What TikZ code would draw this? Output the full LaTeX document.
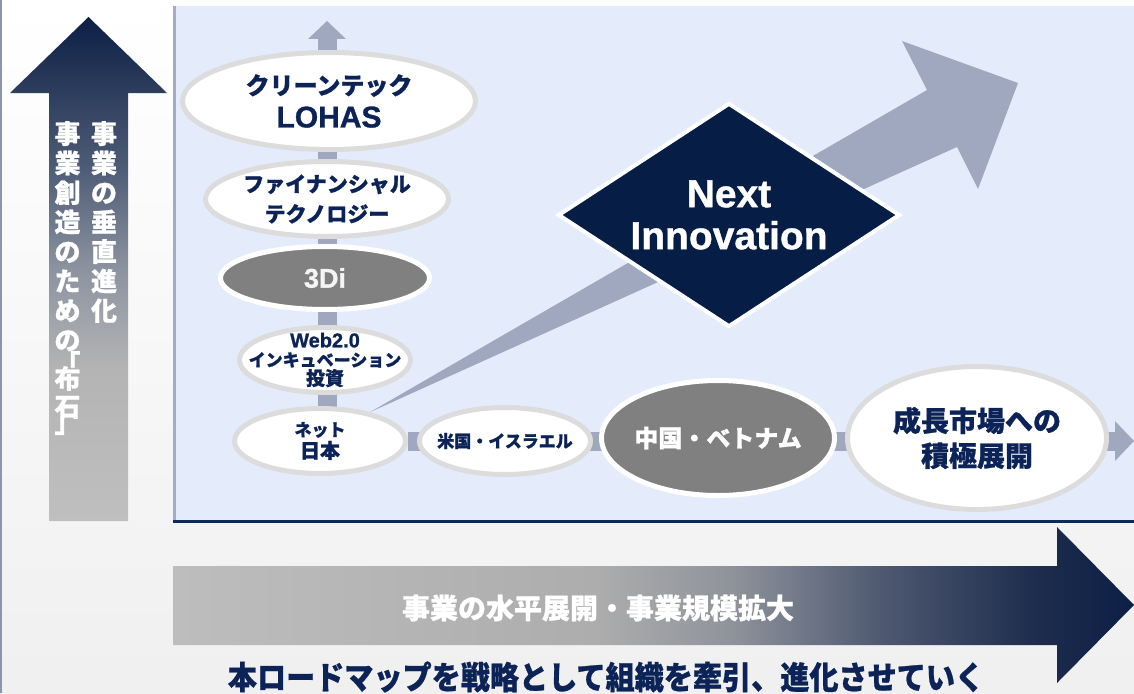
\documentclass[tikz,border=0pt]{standalone}
\usepackage{fontspec}
\setmainfont{Liberation Sans}[BoldFeatures={FakeBold=1}]
\newfontfamily\jp{Noto Sans CJK JP}[BoldFeatures={FakeBold=0.8}]
\newcommand\latf{\rmfamily\bfseries}
\usetikzlibrary{shapes.geometric,arrows.meta}
\definecolor{navytext}{HTML}{0B2356}
\definecolor{navyfill}{HTML}{061D45}
\definecolor{conncol}{HTML}{A0A8BF}
\definecolor{panelcol}{HTML}{E4ECFC}
\definecolor{ringcol}{HTML}{DCDCDC}
\definecolor{midgray}{HTML}{808080}
\definecolor{panelline}{HTML}{A4ACC4}
\definecolor{bline}{HTML}{0E2A5C}
\definecolor{edgecol}{HTML}{8A96AA}
\definecolor{va}{HTML}{BFBFBF}
\definecolor{vb}{HTML}{B4B4B4}
\definecolor{vc}{HTML}{8C93A0}
\definecolor{vd}{HTML}{4E5C76}
\definecolor{ve}{HTML}{0C1F45}
\definecolor{ha}{HTML}{BDBDBD}
\definecolor{hb}{HTML}{ADADAD}
\definecolor{hc}{HTML}{8F939B}
\definecolor{hd}{HTML}{4D5870}
\definecolor{he}{HTML}{1D2C4D}
\definecolor{hf}{HTML}{0C1F45}
\pgfdeclareverticalshading{vgrad}{100bp}{color(0bp)=(va); color(25bp)=(va); color(40bp)=(vb); color(50bp)=(vc); color(60bp)=(vd); color(75bp)=(ve); color(100bp)=(ve)}
\pgfdeclarehorizontalshading{hgrad}{100bp}{color(0bp)=(ha); color(25bp)=(ha); color(47bp)=(hb); color(54bp)=(hc); color(62bp)=(hd); color(70bp)=(he); color(75bp)=(hf); color(100bp)=(hf)}
\pgfdeclarelayer{back}
\pgfdeclarelayer{conn}
\pgfsetlayers{back,conn,main}
\begin{document}
\begin{tikzpicture}[x=1pt,y=-1pt,
  ring/.style={ellipse, draw=ringcol, line width=5, fill=white, inner xsep=-40pt, inner ysep=-20pt, text=navytext, align=center, font=\jp\bfseries},
  grayring/.style={ellipse, draw=white, line width=5, fill=midgray, inner xsep=-40pt, inner ysep=-20pt, text=white, align=center, font=\jp\bfseries},
  conn/.style={draw=conncol, line width=19, line cap=butt},
  vtxt/.style={text=white, align=center, inner sep=0, font=\jp\bfseries\fontsize{26}{29.5}\selectfont}]
\useasboundingbox (0,0) rectangle (1134,693);
\begin{pgfonlayer}{back}
  \shade[top color=white, bottom color=black!6] (0,0) rectangle (1134,693);
  \fill[white] (0,0) rectangle (1134,6);
  \draw[edgecol, line width=1.5] (1,0) -- (1,693);
  \fill[panelcol] (173,6) rectangle (1134,521);
  \draw[panelline, line width=3] (174.5,6) -- (174.5,521);
  \draw[bline, line width=3] (173,521) -- (1134,521);
  \shade[shading=vgrad] (49,521) -- (49,93) -- (10,93) -- (88.5,17) -- (167,93) -- (128,93) -- (128,521) -- cycle;
  \shade[shading=hgrad] (173,566) -- (1057,566) -- (1057,527) -- (1134,605) -- (1057,683) -- (1057,645) -- (173,645) -- cycle;
\end{pgfonlayer}

% left vertical labels
\node[vtxt, anchor=north] (vt1) at (104,121) {事\\業\\の\\垂\\直\\進\\化};
\node[vtxt, anchor=north] (vt2) at (67.5,121) {事\\業\\創\\造\\の\\た\\め\\の\\[-6pt]「\\[-14.5pt]布\\[-1.5pt]石\\[-13.5pt]」};

% bottom labels
\node[text=white, inner sep=0, font=\jp\bfseries\fontsize{28}{30}\selectfont] (hlabel) at (598,608) {事業の水平展開・事業規模拡大};
\node[text=navytext, inner sep=0, font=\jp\bfseries\fontsize{32}{34}\selectfont] (slogan) at (606,677) {\scalebox{0.91}[1]{本ロードマップを戦略として組織を牽引、進化させていく}};

% ellipses
\node[ring, minimum width=293, minimum height=97, font=\jp\bfseries\fontsize{24}{33}\selectfont] (lohas) at (329,101) {クリーンテック\\{\latf\fontsize{30}{33}\selectfont LOHAS}};
\node[ring, minimum width=243, minimum height=75, font=\jp\bfseries\fontsize{21}{30}\selectfont] (fin) at (327,199) {ファイナンシャル\\テクノロジー};
\node[grayring, minimum width=209, minimum height=63, text=black!4, font=\latf\fontsize{27}{30}\selectfont] (tdi) at (325,278) {3Di};
\node[ring, minimum width=171, minimum height=65, font=\jp\bfseries\fontsize{17}{19}\selectfont] (web) at (325,360) {{\latf\fontsize{20}{19}\selectfont Web2.0}\\インキュベーション\\{\fontsize{19}{19}\selectfont 投資}};
\node[ring, minimum width=171, minimum height=65, font=\jp\bfseries\fontsize{17}{22}\selectfont] (net) at (320,441) {ネット\\{\fontsize{20}{22}\selectfont 日本}};
\node[ring, minimum width=171, minimum height=67, font=\jp\bfseries\fontsize{17}{20}\selectfont] (usil) at (505,441) {米国・イスラエル};
\node[grayring, minimum width=233, minimum height=115, font=\jp\bfseries\fontsize{24}{28}\selectfont] (cnvn) at (718,438) {中国・ベトナム};
\node[ring, minimum width=259, minimum height=143, font=\jp\bfseries\fontsize{28}{35}\selectfont] (grow) at (977,438) {成長市場への\\積極展開};

% connectors
\coordinate (vtop) at (327,21);
\coordinate (hend) at (1134,441);
\coordinate (dtip) at (1018,83);
\begin{pgfonlayer}{conn}
  \draw[conn, -{Triangle[length=18pt 0 0, width=38pt 0 0, line width=0pt 0 0]}] (vtop |- net) -- (vtop);
  \draw[conn, -{Triangle[length=19pt 0 0, width=40pt 0 0, line width=0pt 0 0]}] (net) -- (hend);
  \fill[conncol] (net.30) -- (927,90) -- (902,41) -- (dtip) -- (978,189) -- (957,147) -- cycle;
\end{pgfonlayer}

% diamond
\node[diamond, draw=white, line width=4, fill=navyfill, minimum width=342, minimum height=224, inner sep=-30pt, text=white, align=center, font=\latf\fontsize{39}{42}\selectfont] (next) at (729,215) {Next\\Innovation};
\end{tikzpicture}
\end{document}
